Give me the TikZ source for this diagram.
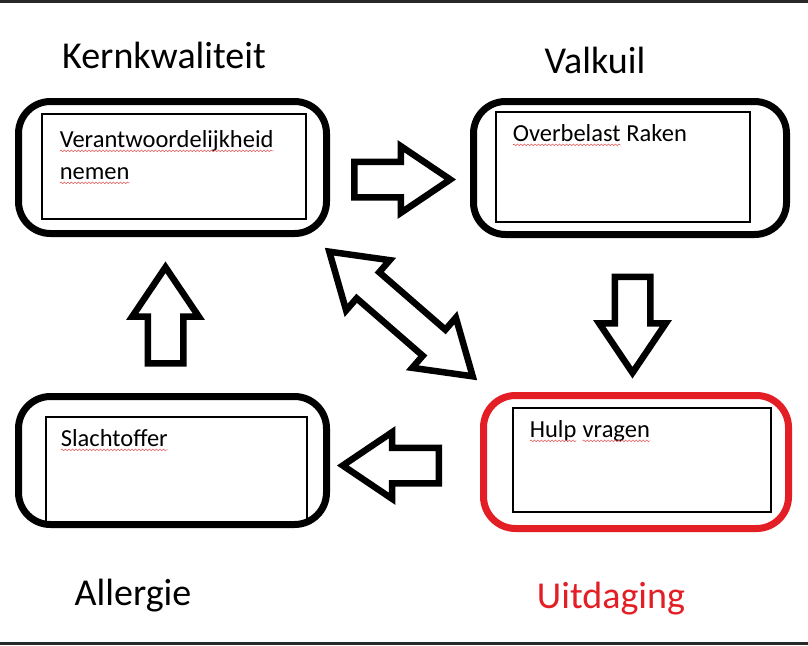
\documentclass[tikz,border=0pt]{standalone}
\usepackage{fontspec}
\setmainfont{Carlito}
\usepackage{tikz}
\usetikzlibrary{shapes.arrows,decorations.pathmorphing}
\definecolor{alarmred}{RGB}{227,30,36}
\definecolor{spellred}{RGB}{225,95,95}
\definecolor{edgegray}{RGB}{40,40,40}
\tikzset{
    round-box/.style = {draw=black, line width=7pt, rectangle, rounded corners=32pt, inner sep=0pt},
    text-box/.style = {draw=black, line width=1.3pt, rectangle, inner sep=0pt},
    box-text/.style = {anchor=base west, inner sep=0pt, font=\fontsize{24.5}{32}\selectfont, align=left},
    corner-title/.style = {anchor=base, inner sep=0pt, font=\fontsize{38}{40}\selectfont},
    block-arrow/.style = {single arrow, draw=black, fill=white, line width=6.5pt, inner xsep=0pt, inner ysep=14.5pt, minimum height=96pt, minimum width=60pt, single arrow head extend=15.5pt, single arrow tip angle=68, anchor=tail},
    both-arrow/.style = {double arrow, draw=black, fill=white, line width=6.5pt, inner xsep=0pt, inner ysep=14pt, minimum height=190pt, minimum width=60pt, double arrow head extend=16pt, double arrow tip angle=66},
    squiggle/.style = {draw=spellred, line width=0.6pt, decorate, decoration={snake, amplitude=0.8pt, segment length=3.5pt}},
}
\newcommand{\spell}[1]{\tikz[baseline=(sp.base)]{\node[inner sep=0pt, outer sep=0pt, anchor=base] (sp) {#1}; \draw[squiggle] ([yshift=-3.5pt]sp.base west) -- ([yshift=-3.5pt]sp.base east);}}

\begin{document}
\begin{tikzpicture}[x=1pt, y=-1pt]
\useasboundingbox (0,0) rectangle (808,645);
\fill[edgegray] (0,0) rectangle (808,2.5);
\fill[edgegray] (0,642) rectangle (808,645);

% outer boxes
\node[round-box, minimum width=308pt, minimum height=132pt] (box1) at (172.5,167.5) {};
\node[round-box, minimum width=313pt, minimum height=133pt] (box2) at (630,168) {};
\node[round-box, minimum width=308pt, minimum height=128pt] (box3) at (172.5,460.5) {};
\node[round-box, draw=alarmred, minimum width=305pt, minimum height=133pt] (box4) at (636,462) {};

% text fields
\node[text-box, minimum width=264pt, minimum height=105pt] (in1) at (174,166.5) {};
\node[text-box, minimum width=254pt, minimum height=110pt] (in2) at (623,167) {};
\node[text-box, minimum width=261pt, minimum height=105pt] (in3) at (176.5,469.5) {};
\node[text-box, minimum width=258pt, minimum height=104pt] (in4) at (642,460) {};

\node[box-text] (t1) at ([shift={(18,66)}]in1.north west) {\spell{Verantwoordelijkheid}\\\spell{nemen}};
\node[box-text] (t2) at ([shift={(17,30)}]in2.north west) {\spell{Overbelast} Raken};
\node[box-text] (t3) at ([shift={(15,30)}]in3.north west) {\spell{Slachtoffer}};
\node[box-text] (t4) at ([shift={(17,30)}]in4.north west) {\spell{Hulp} \spell{vragen}};

% titles
\node[corner-title] (lbl-kern) at (164,68) {Kernkwaliteit};
\node[corner-title] (lbl-val) at (595,73) {Valkuil};
\node[corner-title] (lbl-all) at (133,605) {Allergie};
\node[corner-title, text=alarmred] (lbl-uit) at (611,608) {Uitdaging};

% arrows
\node[block-arrow] (a-right) at (351,179.5) {};
\node[block-arrow, rotate=-90] (a-down) at (632.5,273.5) {};
\node[block-arrow, rotate=180] (a-left) at (442,465.5) {};
\node[block-arrow, rotate=90] (a-up) at (165.5,366.5) {};
\node[both-arrow, rotate=-41] (a-both) at (401,314) {};
\end{tikzpicture}
\end{document}
